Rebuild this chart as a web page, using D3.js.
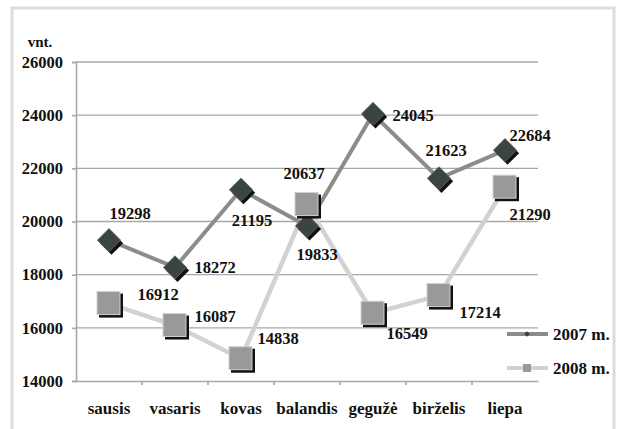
<!DOCTYPE html>
<html>
<head>
<meta charset="utf-8">
<script src="https://cdn.jsdelivr.net/npm/d3@7"></script>
<style>
  body { margin: 0; background: #fff; }
</style>
</head>
<body>
<svg id="chart"></svg>
<script>
// data
var months = ["sausis", "vasaris", "kovas", "balandis", "gegužė", "birželis", "liepa"];
var values2007 = [19298, 18272, 21195, 19833, 24045, 21623, 22684];
var values2008 = [16912, 16087, 14838, 20637, 16549, 17214, 21290];
var yTicks = [14000, 16000, 18000, 20000, 22000, 24000, 26000];
var seriesNames = ["2007 m.", "2008 m."];

// label offsets from the marker (dx to text centre, dy to baseline)
var labelOffsets2007 = [[21, -21], [40, 6], [11, 36], [10, 34], [40, 7], [7, -22], [25, -9]];
var labelOffsets2008 = [[49, -4], [40, -4], [37, -15], [-3, -26], [34, 26], [41, 22], [25, 33]];

var screen = { width: 617, height: 429 };
var plot = { left: 76, right: 538, top: 62, bottom: 381 };
var serif = "'Liberation Serif', 'Times New Roman', serif";

var svg = d3.select("#chart")
            .attr("width", screen.width)
            .attr("height", screen.height);

var textStyle = function(sel, size) {
  sel.style("font-family", serif)
     .style("font-weight", "bold")
     .style("font-size", size + "px")
     .attr("fill", "#111");
};

//frame
svg.append("rect")
   .attr("x", 12).attr("y", 8)
   .attr("width", 602).attr("height", 440)
   .attr("fill", "#fff")
   .attr("stroke", "#dcdcdc")
   .attr("stroke-width", 3);

var xScale = d3.scaleBand()
               .domain(months)
               .range([plot.left, plot.right]);

var yScale = d3.scaleLinear()
               .domain([14000, 26000])
               .range([plot.bottom, plot.top]);

var cx = function(i) { return xScale(months[i]) + xScale.bandwidth() / 2; };

//gridlines
svg.append("g")
   .selectAll("line")
   .data(yTicks.slice(1))
   .enter()
   .append("line")
   .attr("x1", plot.left).attr("x2", plot.right)
   .attr("y1", function(d) { return yScale(d); })
   .attr("y2", function(d) { return yScale(d); })
   .attr("stroke", "#a8a8a8")
   .attr("stroke-width", 1.3);

//y-axis
var yAxis = d3.axisLeft(yScale).tickValues(yTicks).tickSize(4).tickPadding(9).tickFormat(d3.format("d"));
var yG = svg.append("g")
   .attr("transform", "translate(" + plot.left + ",0)")
   .call(yAxis)
   .attr("font-family", null);
yG.selectAll("path, line").attr("stroke", "#a8a8a8").attr("stroke-width", 1.6);
yG.selectAll("text").call(textStyle, 16.5);

//x-axis
var xAxis = d3.axisBottom(xScale).tickSize(0).tickPadding(21);
var xG = svg.append("g")
   .attr("transform", "translate(0," + plot.bottom + ")")
   .call(xAxis)
   .attr("font-family", null);
xG.select("path").attr("stroke", "#a8a8a8").attr("stroke-width", 1.6);
xG.selectAll("text").call(textStyle, 17);

//fake category boundary ticks
svg.append("g")
   .selectAll("line")
   .data(months.slice(1))
   .enter()
   .append("line")
   .attr("x1", function(d) { return xScale(d); })
   .attr("x2", function(d) { return xScale(d); })
   .attr("y1", plot.bottom).attr("y2", plot.bottom + 4)
   .attr("stroke", "#a8a8a8").attr("stroke-width", 1.6);

// "vnt."
svg.append("text")
   .attr("x", 40).attr("y", 47)
   .attr("text-anchor", "middle")
   .call(textStyle, 15)
   .text("vnt.");

var line = d3.line()
             .x(function(d, i) { return cx(i); })
             .y(function(d) { return yScale(d); });

var diamond = d3.symbol().type(d3.symbolSquare).size(270);

//2008 series
svg.append("path")
   .datum(values2008)
   .attr("d", line)
   .attr("fill", "none")
   .attr("stroke", "#d2d2d2")
   .attr("stroke-width", 4.5);

//2007 series
svg.append("path")
   .datum(values2007)
   .attr("d", line)
   .attr("fill", "none")
   .attr("stroke", "#8c8c8c")
   .attr("stroke-width", 4);

//2007 markers
var m07 = svg.append("g").selectAll("g")
             .data(values2007)
             .enter()
             .append("g")
             .attr("transform", function(d, i) { return "translate(" + cx(i) + "," + yScale(d) + ")"; });
m07.append("path")
   .attr("d", diamond)
   .attr("transform", "translate(2.5,3) rotate(45)")
   .attr("fill", "#111");
m07.append("path")
   .attr("d", diamond)
   .attr("transform", "rotate(45)")
   .attr("fill", "#3a4441")
   .attr("stroke", "#5d6663")
   .attr("stroke-width", 0.8);

//2008 markers
var m08 = svg.append("g").selectAll("g")
             .data(values2008)
             .enter()
             .append("g")
             .attr("transform", function(d, i) { return "translate(" + cx(i) + "," + yScale(d) + ")"; });
m08.append("rect")
   .attr("x", -10).attr("y", -10).attr("width", 24).attr("height", 24)
   .attr("fill", "#111");
m08.append("rect")
   .attr("x", -12).attr("y", -12).attr("width", 23).attr("height", 23)
   .attr("fill", "#999")
   .attr("stroke", "#d0d0d0")
   .attr("stroke-width", 1);

//value labels
var drawLabels = function(values, offsets) {
  svg.append("g").selectAll("text")
     .data(values)
     .enter()
     .append("text")
     .attr("x", function(d, i) { return cx(i) + offsets[i][0]; })
     .attr("y", function(d, i) { return yScale(d) + offsets[i][1]; })
     .attr("text-anchor", "middle")
     .call(textStyle, 16.5)
     .text(function(d) { return d; });
};
drawLabels(values2007, labelOffsets2007);
drawLabels(values2008, labelOffsets2008);

//legend
var legend = svg.append("g").attr("transform", "translate(507,334)");
var legendRows = legend.selectAll("g")
                       .data(seriesNames)
                       .enter()
                       .append("g")
                       .attr("transform", function(d, i) { return "translate(0," + (i * 34) + ")"; });
legendRows.append("line")
          .attr("x1", 0).attr("x2", 41).attr("y1", 0).attr("y2", 0)
          .attr("stroke", function(d, i) { return i == 0 ? "#8c8c8c" : "#d2d2d2"; })
          .attr("stroke-width", 4);
legendRows.filter(function(d, i) { return i == 0; })
          .append("path")
          .attr("d", d3.symbol().type(d3.symbolSquare).size(16))
          .attr("transform", "translate(20,0) rotate(45)")
          .attr("fill", "#3a4441");
legendRows.filter(function(d, i) { return i == 1; })
          .append("rect")
          .attr("x", 16).attr("y", -4).attr("width", 8).attr("height", 8)
          .attr("fill", "#999");
legendRows.append("text")
          .attr("x", 46).attr("y", 6)
          .call(textStyle, 17)
          .text(function(d) { return d; });
</script>
</body>
</html>
